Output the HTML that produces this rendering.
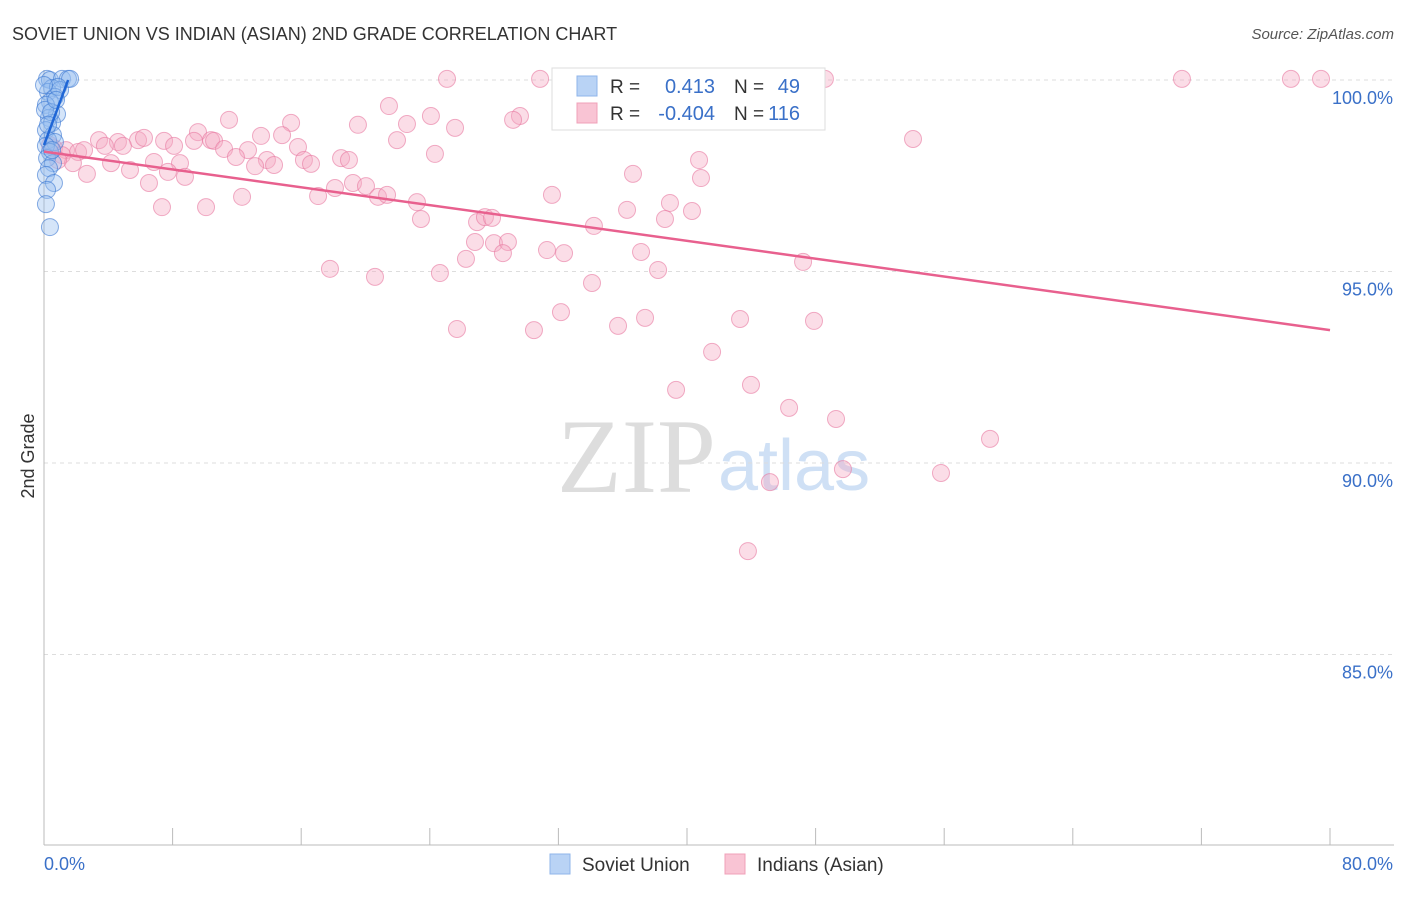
<!DOCTYPE html>
<html><head><meta charset="utf-8"><style>
body{margin:0;background:#fff;font-family:"Liberation Sans",sans-serif}
</style></head><body>
<svg id="c" width="1406" height="892" xmlns="http://www.w3.org/2000/svg" font-family="Liberation Sans, sans-serif">
<text x="12" y="40" font-size="18" fill="#333">SOVIET UNION VS INDIAN (ASIAN) 2ND GRADE CORRELATION CHART</text>
<text x="1394" y="39" font-size="15" fill="#555" text-anchor="end" font-style="italic">Source: ZipAtlas.com</text>
<text x="34" y="456" font-size="18" fill="#333" text-anchor="middle" transform="rotate(-90 34 456)">2nd Grade</text>
<text x="716" y="492" font-size="106" fill="#ddd" text-anchor="end" font-family="Liberation Serif, serif">ZIP</text>
<text x="718" y="490" font-size="72" fill="#cfe0f5">atlas</text>
<g id="grid"></g><g id="axes"></g><g id="pts"></g><g id="lines"></g>
<g>
<rect x="552" y="68" width="273" height="62" fill="#fff" stroke="#ddd"/>
<rect x="577" y="76" width="20" height="20" fill="#b9d3f5" stroke="#8fb5ea"/>
<rect x="577" y="103" width="20" height="20" fill="#f9c4d4" stroke="#f0a0b8"/>
<text x="610" y="93" font-size="19" fill="#333">R =</text><text x="715" y="93" font-size="20" fill="#3a70c8" text-anchor="end">0.413</text>
<text x="734" y="93" font-size="19" fill="#333">N =</text><text x="800" y="93" font-size="20" fill="#3a70c8" text-anchor="end">49</text>
<text x="610" y="120" font-size="19" fill="#333">R =</text><text x="715" y="120" font-size="20" fill="#3a70c8" text-anchor="end">-0.404</text>
<text x="734" y="120" font-size="19" fill="#333">N =</text><text x="800" y="120" font-size="20" fill="#3a70c8" text-anchor="end">116</text>
</g>
<g>
<rect x="550" y="854" width="20" height="20" fill="#b9d3f5" stroke="#8fb5ea"/><text x="582" y="871" font-size="19" fill="#333">Soviet Union</text>
<rect x="725" y="854" width="20" height="20" fill="#f9c4d4" stroke="#f0a0b8"/><text x="757" y="871" font-size="19" fill="#333">Indians (Asian)</text>
</g>
</svg>
<script>
const yTicks=[100,95,90,85];
const yTickLabels=["100.0%","95.0%","90.0%","85.0%"];
const xTicks=[0,8,16,24,32,40,48,56,64,72,80];
const pinkPx=[[447,79],[540,79],[825,79],[1182,79],[1291,79],[1321,79],[389,106],[431,116],[520,116],[513,120],[229,120],[291,123],[358,125],[407,124],[455,128],[198,132],[261,136],[282,135],[397,140],[913,139],[99,140],[118,142],[138,140],[144,138],[164,141],[174,146],[211,140],[194,141],[214,141],[224,149],[298,147],[54,148],[66,150],[78,152],[62,155],[123,146],[105,146],[84,150],[248,150],[236,157],[435,154],[304,160],[341,158],[349,160],[267,160],[274,165],[311,164],[255,166],[180,163],[154,162],[699,160],[111,163],[73,163],[130,170],[168,172],[185,177],[87,174],[633,174],[701,178],[149,183],[353,183],[366,186],[335,188],[318,196],[378,197],[387,195],[242,197],[552,195],[417,202],[670,203],[162,207],[206,207],[627,210],[692,211],[421,219],[477,222],[485,217],[492,218],[665,219],[594,226],[475,242],[494,243],[508,242],[547,250],[564,253],[641,252],[503,253],[466,259],[803,262],[658,270],[330,269],[440,273],[375,277],[592,283],[561,312],[645,318],[740,319],[814,321],[618,326],[457,329],[534,330],[712,352],[676,390],[751,385],[789,408],[836,419],[990,439],[843,469],[941,473],[770,482],[748,551],[58,160],[50,145]];
const bluePx=[[47,79],[50,80],[62,79],[68,79],[70,79],[52,88],[48,92],[60,90],[55,97],[50,102],[46,105],[57,114],[49,118],[52,123],[46,130],[53,135],[48,140],[55,142],[46,146],[50,152],[47,158],[53,163],[49,168],[46,175],[54,183],[47,190],[46,204],[50,227],[58,87],[45,110],[51,112],[48,125],[44,85],[56,100],[52,150]];
const pinkX=pinkPx.map(p=>+((p[0]-44)/16.075).toFixed(2)), pinkY=pinkPx.map(p=>+(100-(p[1]-80)/38.3).toFixed(2));
const blueX=bluePx.map(p=>+((p[0]-44)/16.075).toFixed(2)), blueY=bluePx.map(p=>+(100-(p[1]-80)/38.3).toFixed(2));
const pinkTrend=[98.13,93.47], blueTrend=[98.3,100.0], blueTrendX=[0,1.5];
const X=v=>44+v*1286/80, Y=v=>80+(100-v)*38.3;
const NS="http://www.w3.org/2000/svg";
function mk(t,a,p){const e=document.createElementNS(NS,t);for(const k in a)e.setAttribute(k,a[k]);p.appendChild(e);return e;}
const g=document.getElementById('grid'),ax=document.getElementById('axes'),pts=document.getElementById('pts'),ln=document.getElementById('lines');
yTicks.forEach((t,i)=>{const l=mk('line',{x1:44,x2:1394,y1:Y(t),y2:Y(t),stroke:'#ddd','stroke-dasharray':'4 4'},g);


const tx=mk('text',{x:1393,y:Y(t)+24,'font-size':18,fill:'#3a70c8','text-anchor':'end'},ax);tx.textContent=yTickLabels[i];

});
mk('line',{x1:44,x2:44,y1:70,y2:845,stroke:'#bbb'},ax);
mk('line',{x1:44,x2:1394,y1:845,y2:845,stroke:'#bbb'},ax);
xTicks.forEach(t=>{const l=mk('line',{x1:X(t),x2:X(t),y1:828,y2:845,stroke:'#bbb'},ax);

});
const a=mk('text',{x:44,y:870,'font-size':18,fill:'#3a70c8'},ax);a.textContent='0.0%';


const b=mk('text',{x:1393,y:870,'font-size':18,fill:'#3a70c8','text-anchor':'end'},ax);b.textContent='80.0%';


pinkX.forEach((x,i)=>{const c=mk('circle',{cx:X(x),cy:Y(pinkY[i]),r:8.5,fill:'rgba(246,170,195,0.4)',stroke:'rgba(232,120,160,0.6)','stroke-width':1},pts);

});
blueX.forEach((x,i)=>{const c=mk('circle',{cx:X(x),cy:Y(blueY[i]),r:8.5,fill:'rgba(150,190,240,0.4)',stroke:'rgba(60,120,210,0.6)','stroke-width':1},pts);

});
const pl=mk('line',{x1:X(0),y1:Y(pinkTrend[0]),x2:X(80),y2:Y(pinkTrend[1]),stroke:'#e8608e','stroke-width':2.5},ln);


const bl=mk('line',{x1:X(blueTrendX[0]),y1:Y(blueTrend[0]),x2:X(blueTrendX[1]),y2:Y(blueTrend[1]),stroke:'#1f66d6','stroke-width':2.5},ln);


</script>
</body></html>
